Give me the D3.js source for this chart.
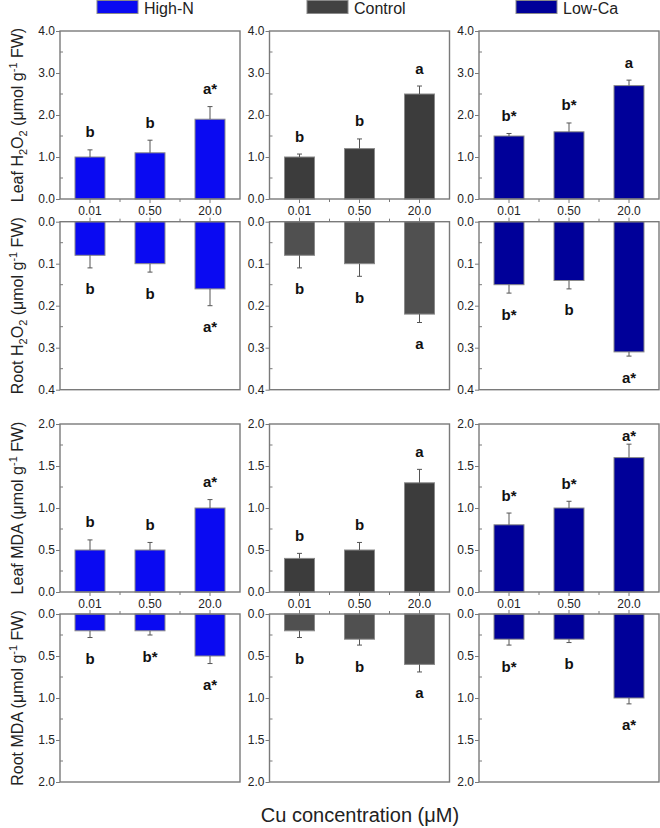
<!DOCTYPE html>
<html><head><meta charset="utf-8">
<script src="https://cdn.jsdelivr.net/npm/d3@7"></script>
<style>
html,body{margin:0;padding:0;background:#fff;}
svg{display:block;font-family:"Liberation Sans",Arial,sans-serif;}
</style></head>
<body>
<svg id="chart" width="660" height="828"></svg>
<script>
// ---------- DATA ----------
const concentrations = ["0.01", "0.50", "20.0"];
const treatments = ["High-N", "Control", "Low-Ca"];

// rows: High-N, Control, Low-Ca ; columns: 0.01, 0.50, 20.0
const leafH2O2Mean = [[1.0, 1.1, 1.9], [1.0, 1.2, 2.5], [1.5, 1.6, 2.7]];
const leafH2O2Err  = [[0.17, 0.30, 0.30], [0.07, 0.23, 0.19], [0.06, 0.21, 0.13]];
const leafH2O2Letters = [["b", "b", "a*"], ["b", "b", "a"], ["b*", "b*", "a"]];

const rootH2O2Mean = [[0.08, 0.10, 0.16], [0.08, 0.10, 0.22], [0.15, 0.14, 0.31]];
const rootH2O2Err  = [[0.03, 0.02, 0.04], [0.03, 0.03, 0.02], [0.02, 0.02, 0.01]];
const rootH2O2Letters = [["b", "b", "a*"], ["b", "b", "a"], ["b*", "b", "a*"]];

const leafMDAMean = [[0.5, 0.5, 1.0], [0.4, 0.5, 1.3], [0.8, 1.0, 1.6]];
const leafMDAErr  = [[0.12, 0.09, 0.10], [0.06, 0.09, 0.16], [0.14, 0.08, 0.16]];
const leafMDALetters = [["b", "b", "a*"], ["b", "b", "a"], ["b*", "b*", "a*"]];

const rootMDAMean = [[0.2, 0.2, 0.5], [0.2, 0.3, 0.6], [0.3, 0.3, 1.0]];
const rootMDAErr  = [[0.08, 0.05, 0.09], [0.08, 0.07, 0.09], [0.07, 0.04, 0.07]];
const rootMDALetters = [["b", "b*", "a*"], ["b", "b", "a"], ["b*", "b", "a*"]];

const leafH2O2Ticks = [0, 1, 2, 3, 4];
const rootH2O2Ticks = [0, 0.1, 0.2, 0.3, 0.4];
const mdaTicks = [0, 0.5, 1.0, 1.5, 2.0];

// ---------- STYLE / LAYOUT ----------
const leafColors = ["#0a0af2", "#3c3c3c", "#000099"];
const rootColors = ["#0a0af2", "#505050", "#000099"];
const legendColors = ["#0a0af2", "#424242", "#000099"];
const frameColor = "#7a7a7a";
const colX = [60, 269.5, 479];
const panelW = 180;

const svg = d3.select("#chart");

const panels = [
  {name: "leafH2O2", mean: leafH2O2Mean, err: leafH2O2Err, letters: leafH2O2Letters, ticks: leafH2O2Ticks, minor: 0.5,
   top: 31, bottom: 199, dir: "up", colors: leafColors, xlabelY: 215,
   label: [["Leaf H"], ["2", "sub"], ["O"], ["2", "sub"], [" (μmol g"], ["-1", "sup"], [" FW)"]]},
  {name: "rootH2O2", mean: rootH2O2Mean, err: rootH2O2Err, letters: rootH2O2Letters, ticks: rootH2O2Ticks, minor: 0.05,
   top: 221.7, bottom: 389.7, dir: "down", colors: rootColors,
   label: [["Root H"], ["2", "sub"], ["O"], ["2", "sub"], [" (μmol g"], ["-1", "sup"], [" FW)"]]},
  {name: "leafMDA", mean: leafMDAMean, err: leafMDAErr, letters: leafMDALetters, ticks: mdaTicks, minor: 0.25,
   top: 424, bottom: 592, dir: "up", colors: leafColors, xlabelY: 608,
   label: [["Leaf MDA (μmol g"], ["-1", "sup"], [" FW)"]]},
  {name: "rootMDA", mean: rootMDAMean, err: rootMDAErr, letters: rootMDALetters, ticks: mdaTicks, minor: 0.25,
   top: 614, bottom: 782, dir: "down", colors: rootColors,
   label: [["Root MDA (μmol g"], ["-1", "sup"], [" FW)"]]}
];

panels.forEach(p => {
  const maxV = p.ticks[p.ticks.length - 1];
  const y = d3.scaleLinear().domain([0, maxV])
    .range(p.dir === "up" ? [p.bottom, p.top] : [p.top, p.bottom]);
  const minorTicks = d3.range(p.minor, maxV, p.minor * 2);

  treatments.forEach((t, ti) => {
    const x0 = colX[ti];
    const x = d3.scaleBand().domain(concentrations).range([x0, x0 + panelW])
      .paddingInner(0.5).paddingOuter(0.25);
    const g = svg.append("g");

    // bars
    g.selectAll("rect.bar").data(concentrations).join("rect")
      .attr("class", "bar")
      .attr("x", d => x(d))
      .attr("width", x.bandwidth())
      .attr("y", (d, i) => Math.min(y(0), y(p.mean[ti][i])))
      .attr("height", (d, i) => Math.abs(y(p.mean[ti][i]) - y(0)))
      .attr("fill", p.colors[ti])
      .attr("stroke", "#8a8a8a").attr("stroke-width", 1);

    // error bars
    concentrations.forEach((c, i) => {
      const cx = x(c) + x.bandwidth() / 2;
      const v = p.mean[ti][i], e = p.err[ti][i];
      g.append("line").attr("x1", cx).attr("x2", cx)
        .attr("y1", y(v)).attr("y2", y(v + e))
        .attr("stroke", "#555").attr("stroke-width", 1);
      g.append("line").attr("x1", cx - 2.5).attr("x2", cx + 2.5)
        .attr("y1", y(v + e)).attr("y2", y(v + e))
        .attr("stroke", "#555").attr("stroke-width", 1);
      // significance letters
      let ly = p.dir === "up" ? y(v + e) - 18 : y(v + e) + 21;
      if (p.dir === "up") ly = Math.max(ly, p.top + 11);
      g.append("text").attr("x", cx).attr("y", ly)
        .attr("text-anchor", "middle").attr("dominant-baseline", "central")
        .attr("font-weight", "bold").attr("font-size", 15).attr("fill", "#111")
        .text(p.letters[ti][i]);
    });

    // frame
    g.append("rect").attr("x", x0).attr("y", p.top).attr("width", panelW)
      .attr("height", p.bottom - p.top).attr("fill", "none")
      .attr("stroke", frameColor).attr("stroke-width", 1.4);

    // y axis
    const yAxis = g.append("g").attr("transform", `translate(${x0},0)`)
      .call(d3.axisLeft(y).tickValues(p.ticks).tickFormat(d3.format(".1f")).tickSize(4).tickPadding(1));
    yAxis.select(".domain").remove();
    yAxis.selectAll("line").attr("stroke", frameColor);
    yAxis.selectAll("text").attr("font-size", 12).attr("fill", "#222")
      .attr("font-family", "'Liberation Sans',Arial,sans-serif");
    g.selectAll("line.minor").data(minorTicks).join("line").attr("class", "minor")
      .attr("x1", x0).attr("x2", x0 + 3).attr("y1", d => y(d)).attr("y2", d => y(d))
      .attr("stroke", frameColor).attr("stroke-width", 1);

    // x ticks on the shared boundary
    const axisY = p.dir === "up" ? p.bottom : p.top;
    const sgn = p.dir === "up" ? 1 : -1;
    concentrations.forEach((c, i) => {
      const cx = x(c) + x.bandwidth() / 2;
      g.append("line").attr("x1", cx).attr("x2", cx).attr("y1", axisY).attr("y2", axisY + sgn * 4)
        .attr("stroke", frameColor);
      if (i > 0) {
        const bx = x(c) - x.step() * 0.25;
        g.append("line").attr("x1", bx).attr("x2", bx).attr("y1", axisY).attr("y2", axisY + sgn * 3)
          .attr("stroke", frameColor);
      }
    });

    // x tick labels under leaf panels
    if (p.xlabelY) {
      g.selectAll("text.xl").data(concentrations).join("text").attr("class", "xl")
        .attr("x", d => x(d) + x.bandwidth() / 2).attr("y", p.xlabelY)
        .attr("text-anchor", "middle").attr("font-size", 12).attr("fill", "#222")
        .text(d => d);
    }
  });

  // y axis title
  const cy = (p.top + p.bottom) / 2;
  const tt = svg.append("text")
    .attr("transform", `translate(23,${cy}) rotate(-90)`)
    .attr("text-anchor", "middle").attr("font-size", 16).attr("fill", "#222");
  p.label.forEach(([s, kind]) => {
    const ts = tt.append("tspan").text(s);
    if (kind === "sub") ts.attr("font-size", 11).attr("dy", 4);
    else if (kind === "sup") ts.attr("font-size", 11).attr("dy", -6);
    else ts.attr("dy", 0);
  });
  // reset shifts after sub/sup
  let prev = null;
  tt.selectAll("tspan").each(function (d, i) {
    const kind = p.label[i][1];
    const el = d3.select(this);
    let shift = kind === "sub" ? 4 : kind === "sup" ? -6 : 0;
    let prevShift = prev === "sub" ? 4 : prev === "sup" ? -6 : 0;
    el.attr("dy", shift - prevShift);
    prev = kind;
  });
});

// legend
const legendX = [97, 307, 516];
treatments.forEach((t, i) => {
  svg.append("rect").attr("x", legendX[i]).attr("y", 0.5).attr("width", 41).attr("height", 13)
    .attr("fill", legendColors[i]).attr("stroke", "#8a8a8a").attr("stroke-width", 1);
  svg.append("text").attr("x", legendX[i] + 47).attr("y", 14)
    .attr("font-size", 16).attr("fill", "#222").text(t);
});

// x axis title
svg.append("text").attr("x", 360).attr("y", 822).attr("text-anchor", "middle")
  .attr("font-size", 20).attr("fill", "#222").text("Cu concentration (μM)");
</script>
</body></html>
